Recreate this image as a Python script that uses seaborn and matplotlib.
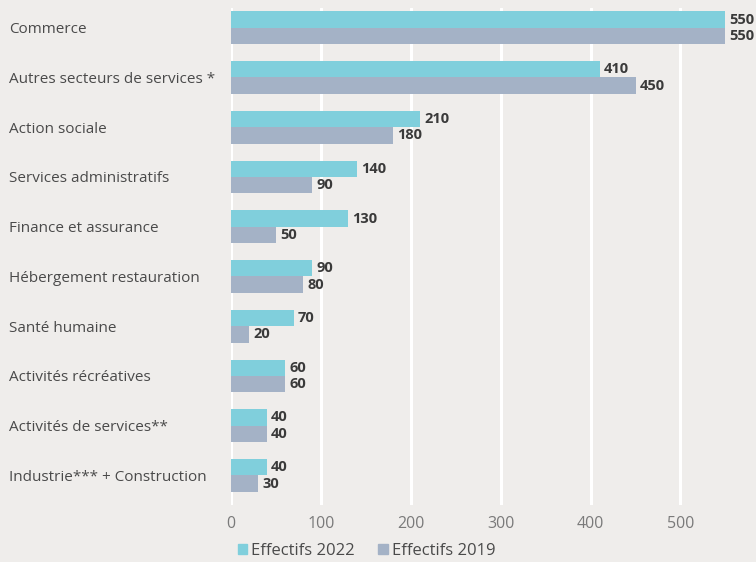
import matplotlib
matplotlib.use("Agg")
import matplotlib.pyplot as plt
import seaborn as sns
import pandas as pd

categories = [
    "Commerce",
    "Autres secteurs de services *",
    "Action sociale",
    "Services administratifs",
    "Finance et assurance",
    "Hébergement restauration",
    "Santé humaine",
    "Activités récréatives",
    "Activités de services**",
    "Industrie*** + Construction",
]
effectifs_2022 = [550, 410, 210, 140, 130, 90, 70, 60, 40, 40]
effectifs_2019 = [550, 450, 180, 90, 50, 80, 20, 60, 40, 30]
series = ["Effectifs 2022", "Effectifs 2019"]
x_ticks = [0, 100, 200, 300, 400, 500]

BG = "#efedeb"
colors = ["#80cfdc", "#a4b2c6"]

df = pd.DataFrame({
    "secteur": categories * 2,
    "valeur": effectifs_2022 + effectifs_2019,
    "serie": [series[0]] * len(categories) + [series[1]] * len(categories),
})

sns.set_theme(style="white")
plt.rcParams["font.family"] = ["Open Sans", "DejaVu Sans"]

fig = plt.figure(figsize=(7.56, 5.62), dpi=100, facecolor=BG)
ax = fig.add_axes([0.3056, 0.101, 0.6944, 0.885])
ax.set_facecolor(BG)

sns.barplot(data=df, y="secteur", x="valeur", hue="serie", order=categories,
            hue_order=series, palette=colors, width=0.66, saturation=1,
            orient="h", ax=ax, legend=False, linewidth=0, edgecolor="none")

ax.set_xlim(0, 584)
ax.set_ylim(9.6, -0.4)
ax.set_xticks(x_ticks)
ax.grid(axis="x", color="white", linewidth=2.2)
ax.set_axisbelow(True)
for s in ax.spines.values():
    s.set_visible(False)
ax.set_xlabel("")
ax.set_ylabel("")
ax.tick_params(axis="x", length=0, pad=8, labelsize=11.5, labelcolor="#7a7a7a")
ax.tick_params(axis="y", length=0, pad=160, labelsize=11, labelcolor="#4a4a4a")
for lbl in ax.get_yticklabels():
    lbl.set_horizontalalignment("left")

for cont in ax.containers:
    ax.bar_label(cont, padding=3, fontsize=10.5, fontweight="bold", color="#3a3a3a")

handles = [plt.Rectangle((0, 0), 1, 1, color=c) for c in colors]
fig.legend(handles, series, loc="lower center", bbox_to_anchor=(0.485, -0.022),
           ncol=2, frameon=False, fontsize=12, handlelength=0.55, handleheight=0.55,
           handletextpad=0.25, columnspacing=1.4, labelcolor="#4a4a4a")

fig.savefig("out.png", dpi=100, facecolor=BG)
